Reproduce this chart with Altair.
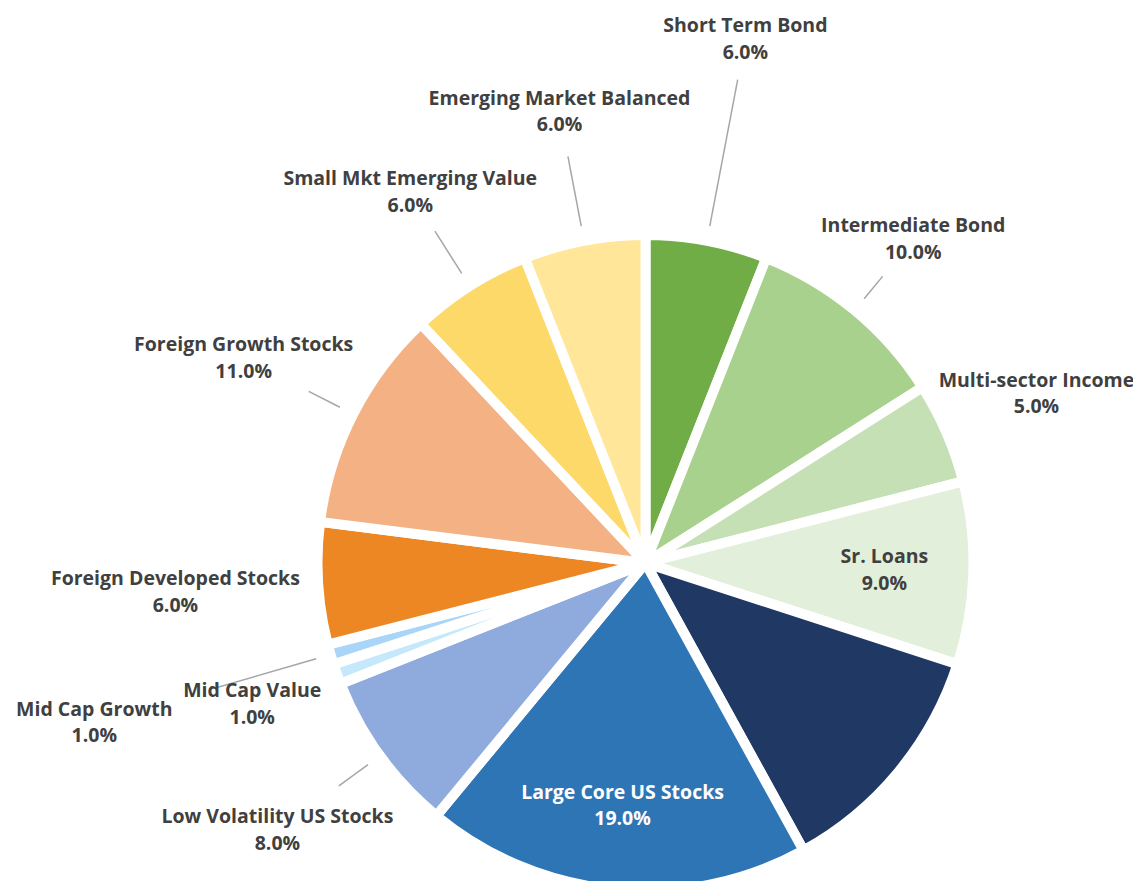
import altair as alt
import pandas as pd

# ---- data ----
categories = [
    "Short Term Bond", "Intermediate Bond", "Multi-sector Income", "Sr. Loans",
    "Large Value US Stocks", "Large Core US Stocks", "Low Volatility US Stocks",
    "Mid Cap Value", "Mid Cap Growth", "Foreign Developed Stocks",
    "Foreign Growth Stocks", "Small Mkt Emerging Value", "Emerging Market Balanced",
]
values = [6, 10, 5, 9, 12, 19, 8, 1, 1, 6, 11, 6, 6]
show_label = [True, True, True, True, False, True, True, True, True, True, True, True, True]

# ---- styling / layout ----
colors = [
    "#70AD47", "#A9D18E", "#C5E0B4", "#E2EFDA", "#203864", "#2E75B6", "#8FAADC",
    "#C5E9FB", "#A9D5F8", "#EC8723", "#F4B183", "#FDD96A", "#FFE699",
]
label_radius = [533, 420, 426, 239, 0, 244, 455, 418, 574, 471, 451, 439, 459]
leader_end = [492, 372, 0, 0, 0, 0, 379, 0, 448, 0, 378, 393, 414]
LEADER_START = 343
CX, CY = 637.5, 555
R = 328
LINE_H = 26.5

rows = []
for i, (c, v) in enumerate(zip(categories, values)):
    rows.append({
        "idx": i,
        "name": c,
        "value": v,
        "label": f"{c}\n{v:.1f}%" if show_label[i] else "",
        "label_r": label_radius[i],
        "leader_end": leader_end[i],
    })
df = pd.DataFrame(rows)

base = alt.Chart(df)

pie = base.mark_arc(outerRadius=R, stroke="white", strokeWidth=10, strokeJoin="round").encode(
    theta=alt.Theta("value:Q", stack=True),
    order=alt.Order("idx:Q", sort="ascending"),
    color=alt.Color("name:N", scale=alt.Scale(domain=categories, range=colors), legend=None),
    x=alt.value(CX),
    y=alt.value(CY),
)

geo = base.transform_window(
    cum="sum(value)", sort=[alt.SortField("idx")], frame=[None, 0]
).transform_joinaggregate(
    total="sum(value)"
).transform_calculate(
    mid="(datum.cum - datum.value / 2) / datum.total * 2 * PI"
)

leaders = geo.transform_filter("datum.leader_end > 0").transform_calculate(
    lx1=f"{CX} + {LEADER_START} * sin(datum.mid)",
    ly1=f"{CY} - {LEADER_START} * cos(datum.mid)",
    lx2=f"{CX} + datum.leader_end * sin(datum.mid)",
    ly2=f"{CY} - datum.leader_end * cos(datum.mid)",
).mark_rule(color="#A6A6A6", strokeWidth=1.5).encode(
    x=alt.X("lx1:Q", scale=None),
    y=alt.Y("ly1:Q", scale=None),
    x2="lx2:Q",
    y2="ly2:Q",
)

labels = geo.transform_filter("datum.label_r > 0").transform_calculate(
    tx=f"{CX} + datum.label_r * sin(datum.mid)",
    ty=f"{CY} - datum.label_r * cos(datum.mid) - {LINE_H / 2}",
).mark_text(
    font="Open Sans", fontWeight="bold", fontSize=19.5, lineBreak="\n",
    lineHeight=LINE_H, align="center", baseline="middle",
).encode(
    x=alt.X("tx:Q", scale=None),
    y=alt.Y("ty:Q", scale=None),
    text="label:N",
    color=alt.condition("datum.name == 'Large Core US Stocks'", alt.value("#FFFFFF"), alt.value("#404040")),
)

chart = alt.layer(pie, leaders, labels).properties(
    width=1125, height=873, autosize="none", padding=0
).configure_view(stroke=None)

chart.save("out.html", embed_options={"renderer": "svg", "actions": False})
